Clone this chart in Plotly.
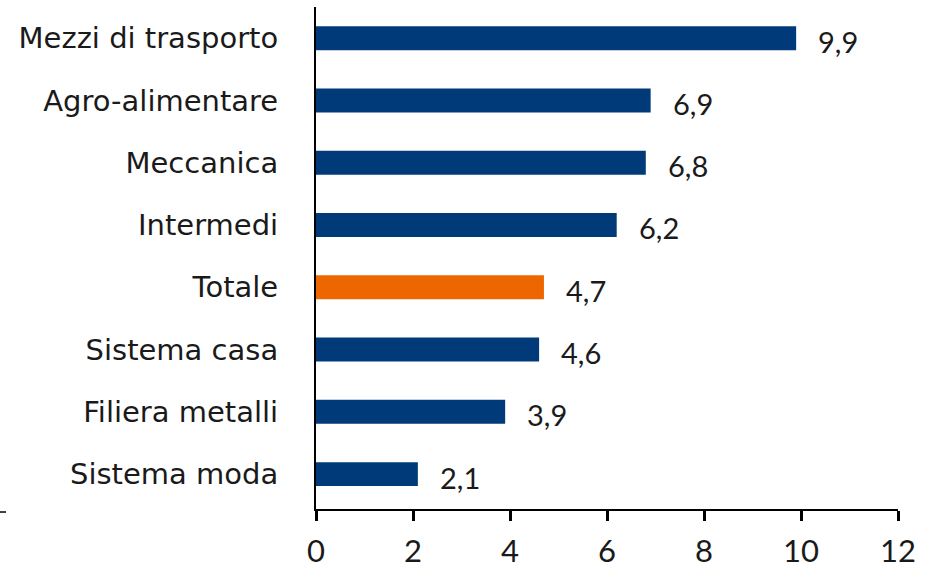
import plotly.graph_objects as go

categories = ["Sistema moda", "Filiera metalli", "Sistema casa", "Totale",
              "Intermedi", "Meccanica", "Agro-alimentare", "Mezzi di trasporto"]
values = [2.1, 3.9, 4.6, 4.7, 6.2, 6.8, 6.9, 9.9]
value_labels = ["2,1", "3,9", "4,6", "4,7", "6,2", "6,8", "6,9", "9,9"]
x_ticks = [0, 2, 4, 6, 8, 10, 12]

NAVY = "#003A78"
ORANGE = "#EE6600"
colors = [ORANGE if c == "Totale" else NAVY for c in categories]
FONT = "Lato"
LABEL_FONT = "DejaVu Sans"

fig = go.Figure()
fig.add_trace(go.Bar(
    y=categories, x=values, orientation="h",
    marker=dict(color=colors, line=dict(width=0)),
    width=0.385, hoverinfo="skip",
))

for c, v, t in zip(categories, values, value_labels):
    fig.add_annotation(x=v, y=c, text=t, showarrow=False, xanchor="left",
                       xshift=20, yshift=-3,
                       font=dict(family=FONT, size=29, color="#1a1a1a"))

fig.update_layout(
    width=932, height=568,
    margin=dict(l=316, r=34, t=7, b=59),
    paper_bgcolor="white", plot_bgcolor="white",
    showlegend=False,
    font=dict(family=FONT, size=28, color="#1a1a1a"),
    xaxis=dict(range=[0, 12], tickvals=x_ticks, ticktext=[str(v) for v in x_ticks],
               showgrid=False, zeroline=False, showline=True, linecolor="black",
               linewidth=2, ticks="outside", ticklen=10, tickwidth=2.5, tickcolor="black",
               ticklabelstandoff=4, automargin=False,
               tickfont=dict(family=FONT, size=31, color="#1a1a1a"),
               fixedrange=True),
    yaxis=dict(categoryorder="array", categoryarray=categories,
               range=[-0.56, 7.5], showgrid=False, zeroline=False,
               showline=True, linecolor="black", linewidth=2, ticks="",
               ticklabelstandoff=30, automargin=False,
               tickfont=dict(family=LABEL_FONT, size=29, color="#1a1a1a"),
               fixedrange=True),
)

fig.add_shape(type="line", xref="paper", yref="paper",
              x0=-316/582, x1=-310/582, y0=-0.006, y1=-0.006,
              line=dict(color="black", width=1.5))

fig.write_html("out.html", config={"displayModeBar": False},
               post_script="document.body.style.margin='0';document.body.style.padding='0';")
